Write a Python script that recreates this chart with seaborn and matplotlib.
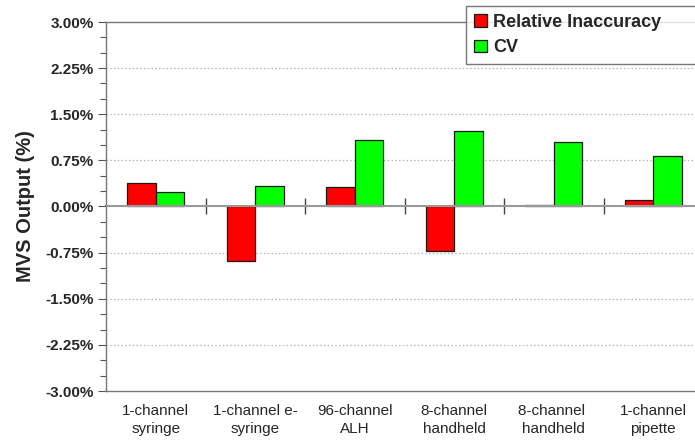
import matplotlib
matplotlib.use("Agg")
import matplotlib.pyplot as plt
from matplotlib.ticker import MultipleLocator, FuncFormatter
import seaborn as sns
import pandas as pd

# --- data ---
categories = ['1-channel\nsyringe', '1-channel e-\nsyringe', '96-channel\nALH',
              '8-channel\nhandheld', '8-channel \nhandheld', '1-channel\npipette']
relative_inaccuracy = [0.39, -0.88, 0.31, -0.72, 0.02, 0.11]
cv = [0.23, 0.34, 1.08, 1.22, 1.05, 0.82]
series_names = ['Relative Inaccuracy', 'CV']

df = pd.DataFrame({
    'Device': categories * 2,
    'Value': relative_inaccuracy + cv,
    'Series': [series_names[0]] * len(categories) + [series_names[1]] * len(categories),
})

sns.set_theme(style="white")
plt.rcParams['font.family'] = ['Liberation Sans', 'DejaVu Sans']

fig = plt.figure(figsize=(6.95, 4.44), dpi=100)
ax = fig.add_axes([106 / 695, 1 - 391 / 444, 597 / 695, 369 / 444])

sns.barplot(data=df, x='Device', y='Value', hue='Series', order=categories,
            palette=['#ff0000', '#00ff00'], saturation=1, width=0.575, gap=0,
            edgecolor='#1a1a1a', linewidth=0.9, ax=ax, legend=True, zorder=3)

ax.set_ylim(-3, 3)
ax.set_xlim(-0.5, len(categories) - 0.5)
ax.yaxis.set_major_locator(MultipleLocator(0.75))
ax.yaxis.set_minor_locator(MultipleLocator(0.25))
ax.yaxis.set_major_formatter(FuncFormatter(lambda v, p: f'{v:.2f}%'))
ax.tick_params(axis='y', which='major', direction='out', length=6, width=0.8,
               color='#555555', labelsize=11, pad=3, left=True)
ax.tick_params(axis='y', which='minor', direction='out', length=4, width=0.8,
               color='#555555', left=True)
for lbl in ax.get_yticklabels():
    lbl.set_fontweight('bold')
ax.tick_params(axis='x', length=0, labelsize=11, pad=9)
for lbl in ax.get_xticklabels():
    lbl.set_linespacing(1.45)

# dotted gridlines at the major ticks
for v in [-2.25, -1.5, -0.75, 0.75, 1.5, 2.25]:
    ax.axhline(v, color='#b5b5b5', linestyle=(0, (1.2, 1.8)), linewidth=0.9, zorder=0)

# zero line with category separator ticks
ax.axhline(0, color='#999999', linewidth=1.5, zorder=4)
sec = ax.secondary_xaxis(0.5)
sec.set_xticks([i + 0.5 for i in range(len(categories) - 1)])
sec.set_xticklabels([])
sec.tick_params(axis='x', direction='inout', length=12, width=1.0, color='#444444')
sec.spines['bottom'].set_visible(False)

for side in ['left', 'bottom', 'top']:
    ax.spines[side].set_color('#777777')
    ax.spines[side].set_linewidth(1.0)
ax.spines['right'].set_visible(False)

ax.set_xlabel('')
ax.set_ylabel('MVS Output (%)', fontsize=14.5, fontweight='bold', labelpad=7)

# legend box runs off the right edge like in the reference
leg = ax.legend(loc='upper left', bbox_to_anchor=(466 / 695, 1 - 6 / 444, 250 / 695, 0),
                bbox_transform=fig.transFigure, mode='expand', frameon=True, fancybox=False,
                prop={'weight': 'bold', 'size': 13}, handlelength=0.72,
                handleheight=0.72, handletextpad=0.35, borderpad=0.45,
                labelspacing=0.45, borderaxespad=0)
leg.get_frame().set_edgecolor('#555555')
leg.get_frame().set_linewidth(1.0)
leg.set_zorder(10)
for h in leg.legend_handles:
    h.set_edgecolor('#1a1a1a')

fig.savefig('out.png', dpi=100)
